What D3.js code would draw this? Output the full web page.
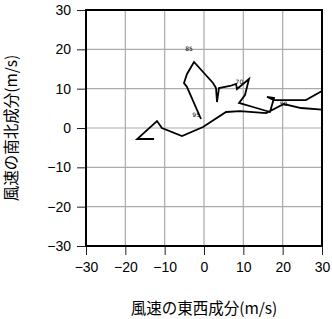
<!DOCTYPE html>
<html>
<head>
<meta charset="utf-8">
<script src="https://cdn.jsdelivr.net/npm/d3@7"></script>
<style>
  body { margin: 0; background: #fff; }
</style>
</head>
<body>
<div id="chart"></div>
<script>
// 風速ホドグラフ (u: 東西成分, v: 南北成分)
const uWind = [-0.76, -4.32, -5.09, -4.32, -2.54, 2.29, 3.05, 3.31, 3.81, 6.61, 8.14, 8.39,
  11.44, 10.42, 8.90, 12.46, 16.78, 17.80, 16.02, 17.8, 25.9, 32.0, 32.0, 24.66, 20.3,
  15.8, 9.15, 5.6, -0.25, -5.6, -10.7, -11.95, -17.0, -12.7];
const vWind = [2.29, 10.42, 11.44, 13.73, 16.78, 11.44, 10.17, 6.61, 10.17, 10.68, 11.19, 9.92,
  12.46, 8.39, 6.36, 5.34, 4.07, 7.63, 7.88, 7.1, 7.1, 10.5, 4.5, 5.08, 6.1,
  3.8, 4.3, 4.07, 0.25, -2.03, 0, 1.78, -2.8, -2.8];

// 気圧面ラベル
const levelNames = ["85", "70", "95", "50"];
const levelU = [-3.8, 9.0, -2.0, 20.2];
const levelV = [20.0, 11.7, 3.3, 6.2];

const ticks = [-30, -20, -10, 0, 10, 20, 30];

const width = 332;
const height = 319;
const margin = { left: 86, right: 10, top: 10, bottom: 73 };

const svg = d3.select("#chart")
  .append("svg")
  .attr("width", width)
  .attr("height", height);

const x = d3.scaleLinear().domain([-30, 30]).range([margin.left, width - margin.right]);
const y = d3.scaleLinear().domain([-30, 30]).range([height - margin.bottom, margin.top]);

// グリッド
svg.append("g")
  .selectAll("line.gx")
  .data(ticks.slice(1, -1))
  .enter()
  .append("line")
  .attr("x1", d => x(d)).attr("x2", d => x(d))
  .attr("y1", y(-30)).attr("y2", y(30))
  .attr("stroke", "#aaa")
  .attr("stroke-width", 1.2);

svg.append("g")
  .selectAll("line.gy")
  .data(ticks.slice(1, -1))
  .enter()
  .append("line")
  .attr("x1", x(-30)).attr("x2", x(30))
  .attr("y1", d => y(d)).attr("y2", d => y(d))
  .attr("stroke", "#aaa")
  .attr("stroke-width", 1.2);

// 軸
const xAxis = d3.axisBottom(x).tickValues(ticks).tickSize(9).tickPadding(6)
  .tickFormat(d => d < 0 ? "\u2212" + Math.abs(d) : d);
const yAxis = d3.axisLeft(y).tickValues(ticks).tickSize(9).tickPadding(6)
  .tickFormat(d => d < 0 ? "\u2212" + Math.abs(d) : d);

const gx = svg.append("g")
  .attr("transform", `translate(0,${y(-30)})`)
  .call(xAxis);
const gy = svg.append("g")
  .attr("transform", `translate(${x(-30)},0)`)
  .call(yAxis);

[gx, gy].forEach(g => {
  g.select(".domain").remove();
  g.selectAll("line").attr("stroke", "#222").attr("stroke-width", 1);
  g.selectAll("text")
    .attr("fill", "#000")
    .style("font-family", "'Liberation Sans', Arial, sans-serif")
    .style("font-size", "14px");
});
gx.selectAll("text").attr("dy", "0.75em");

// ホドグラフ
svg.append("clipPath")
  .attr("id", "plot-clip")
  .append("rect")
  .attr("x", x(-30)).attr("y", y(30))
  .attr("width", x(30) - x(-30))
  .attr("height", y(-30) - y(30));

const line = d3.line()
  .x(i => x(uWind[i]))
  .y(i => y(vWind[i]));

svg.append("path")
  .attr("d", line(d3.range(uWind.length)))
  .attr("clip-path", "url(#plot-clip)")
  .attr("fill", "none")
  .attr("stroke", "#000")
  .attr("stroke-width", 1.8)
  .attr("stroke-linejoin", "miter");

svg.selectAll(".level-label")
  .data(levelNames)
  .enter()
  .append("text")
  .attr("class", "level-label")
  .attr("x", (d, i) => x(levelU[i]))
  .attr("y", (d, i) => y(levelV[i]) + 2)
  .attr("text-anchor", "middle")
  .attr("fill", "#000")
  .style("font-family", "'DejaVu Sans', sans-serif")
  .style("font-size", "6px")
  .text(d => d);

// 枠
svg.append("rect")
  .attr("x", x(-30)).attr("y", y(30))
  .attr("width", x(30) - x(-30))
  .attr("height", y(-30) - y(30))
  .attr("fill", "none")
  .attr("stroke", "#000")
  .attr("stroke-width", 2);

// 軸タイトル
svg.append("text")
  .attr("x", (x(-30) + x(30)) / 2)
  .attr("y", 314)
  .attr("text-anchor", "middle")
  .style("font-family", "'Noto Sans CJK JP', sans-serif")
  .style("font-size", "15.5px")
  .text("風速の東西成分(m/s)");

svg.append("text")
  .attr("transform", `translate(17,${(y(-30) + y(30)) / 2}) rotate(-90)`)
  .attr("text-anchor", "middle")
  .style("font-family", "'Noto Sans CJK JP', sans-serif")
  .style("font-size", "15.5px")
  .text("風速の南北成分(m/s)");
</script>
</body>
</html>
